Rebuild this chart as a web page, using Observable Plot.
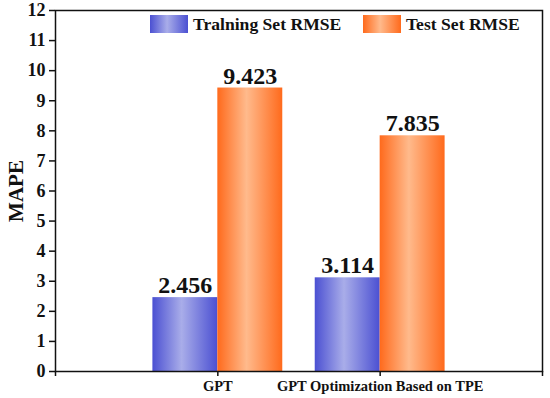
<!DOCTYPE html>
<html>
<head>
<meta charset="utf-8">
<script src="https://cdn.jsdelivr.net/npm/d3@7"></script>
<script src="https://cdn.jsdelivr.net/npm/@observablehq/plot@0.6"></script>
<style>
  html, body { margin: 0; padding: 0; background: white; }
  #wrap { position: relative; width: 550px; height: 398px; font-family: "Liberation Serif", "Times New Roman", serif; font-weight: bold; }
  #wrap svg, #wrap svg g, #wrap svg text { font-weight: bold !important; font-family: "Liberation Serif", "Times New Roman", serif !important; }
  .leg { position: absolute; top: 15px; height: 18px; display: flex; align-items: center; font-size: 17.6px; color: #111; white-space: nowrap; }
  .sw { width: 38px; height: 18px; margin-right: 5px; }
</style>
</head>
<body>
<div id="wrap"></div>
<script>
// ---- data ----
const groups = ["GPT", "GPT Optimization Based on TPE"];
const seriesNames = ["Tralning Set RMSE", "Test Set RMSE"];
const trainingValues = [2.456, 3.114];
const testValues = [9.423, 7.835];
const yTicks = [0, 1, 2, 3, 4, 5, 6, 7, 8, 9, 10, 11, 12];
const yLabel = "MAPE";

// ---- layout helpers ----
const half = 0.4; // bar width in category units
const trainRows = groups.map((g, i) => ({group: g, series: seriesNames[0], value: trainingValues[i], x1: i + 1 - half, x2: i + 1, xc: i + 1 - half / 2}));
const testRows = groups.map((g, i) => ({group: g, series: seriesNames[1], value: testValues[i], x1: i + 1, x2: i + 1 + half, xc: i + 1 + half / 2}));
const allRows = trainRows.concat(testRows);

const blueStops = [["0%", "#4b50d2"], ["45%", "#a9ade9"], ["100%", "#4b50d2"]];
const orangeStops = [["0%", "#ff6a1c"], ["45%", "#ffba8c"], ["100%", "#ff6a1c"]];

function gradientDefs() {
  const defs = d3.create("svg:defs");
  for (const [id, stops] of [["gBlue", blueStops], ["gOrange", orangeStops]]) {
    const lg = defs.append("linearGradient").attr("id", id).attr("x1", "0").attr("x2", "1").attr("y1", "0").attr("y2", "0");
    for (const [o, c] of stops) lg.append("stop").attr("offset", o).attr("stop-color", c);
  }
  return defs.node();
}

const font = "'Liberation Serif', 'Times New Roman', serif";

const chart = Plot.plot({
  width: 550,
  height: 398,
  marginLeft: 55,
  marginRight: 8,
  marginTop: 10,
  marginBottom: 27,
  style: {fontFamily: font, fontWeight: "bold", color: "#111", background: "white", overflow: "visible"},
  x: {type: "linear", domain: [0, groups.length + 1]},
  y: {domain: [0, 12]},
  marks: [
    gradientDefs,
    Plot.rect(trainRows, {x1: "x1", x2: "x2", y1: 0, y2: "value", fill: "url(#gBlue)"}),
    Plot.rect(testRows, {x1: "x1", x2: "x2", y1: 0, y2: "value", fill: "url(#gOrange)"}),
    Plot.text(allRows, {x: "xc", y: "value", text: d => d.value.toFixed(3), dy: -4.5, lineAnchor: "bottom", fontSize: 24, fontWeight: "bold", fill: "#111"}),
    Plot.frame({stroke: "#111", strokeWidth: 1.5}),
    Plot.axisY({ticks: yTicks, tickSize: 6, tickPadding: 4, fontSize: 18, fontWeight: "bold", label: null, stroke: "#111", strokeWidth: 1.5}),
    Plot.axisX({ticks: d3.range(0, groups.length + 2), tickSize: 5, tickPadding: 4, fontSize: 14.5, fontWeight: "bold", label: null, stroke: "#111", strokeWidth: 1.5,
      tickFormat: d => groups[d - 1] || ""}),
    Plot.text([yLabel], {frameAnchor: "left", dx: -39, rotate: -90, fontSize: 21, fontWeight: "bold", fill: "#111", textAnchor: "middle", lineAnchor: "middle"})
  ]
});

const wrap = document.getElementById("wrap");
wrap.appendChild(chart);

// legend overlay (inside plot area, top)
const legendItems = [
  {name: seriesNames[0], grad: `linear-gradient(to right, ${blueStops.map(s => s[1] + " " + s[0]).join(", ")})`, left: 150},
  {name: seriesNames[1], grad: `linear-gradient(to right, ${orangeStops.map(s => s[1] + " " + s[0]).join(", ")})`, left: 363}
];
for (const it of legendItems) {
  const d = document.createElement("div");
  d.className = "leg";
  d.style.left = it.left + "px";
  const sw = document.createElement("div");
  sw.className = "sw";
  sw.style.background = it.grad;
  const t = document.createElement("span");
  t.textContent = it.name;
  d.appendChild(sw);
  d.appendChild(t);
  wrap.appendChild(d);
}
</script>
</body>
</html>
